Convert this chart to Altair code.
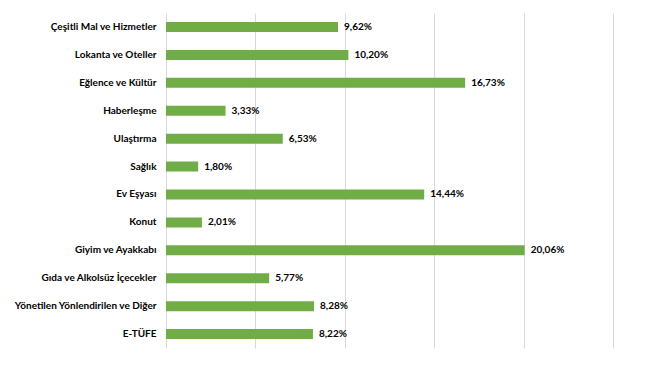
import altair as alt
import pandas as pd

categories = [
    "Çeşitli Mal ve Hizmetler",
    "Lokanta ve Oteller",
    "Eğlence ve Kültür",
    "Haberleşme",
    "Ulaştırma",
    "Sağlık",
    "Ev Eşyası",
    "Konut",
    "Giyim ve Ayakkabı",
    "Gıda ve Alkolsüz İçecekler",
    "Yönetilen Yönlendirilen ve Diğer",
    "E-TÜFE",
]
values = [9.62, 10.20, 16.73, 3.33, 6.53, 1.80, 14.44, 2.01, 20.06, 5.77, 8.28, 8.22]
x_ticks = [0, 5, 10, 15, 20, 25]

df = pd.DataFrame({"kategori": categories, "deger": values})

FONT = "Lato"

y_enc = alt.Y(
    "kategori:N",
    sort=categories,
    title=None,
    scale=alt.Scale(paddingInner=0.64, paddingOuter=0.32),
    axis=alt.Axis(
        domain=False,
        ticks=False,
        grid=False,
        labelFont=FONT,
        labelFontWeight="bold",
        labelFontSize=10,
        labelColor="#000000",
        labelPadding=10,
        labelLimit=300,
    ),
)
x_enc = alt.X(
    "deger:Q",
    title=None,
    scale=alt.Scale(domain=[0, 25], nice=False),
    axis=alt.Axis(
        values=x_ticks,
        labels=False,
        ticks=False,
        domain=False,
        grid=True,
        gridColor="#d9d9d9",
        gridWidth=1,
    ),
)

base = alt.Chart(df).encode(y=y_enc, x=x_enc)

bars = base.mark_bar(color="#70AD47", size=10)
labels = base.transform_calculate(
    etiket="replace(format(datum.deger, '.2f'), '.', ',') + '%'"
).mark_text(
    align="left",
    baseline="middle",
    dx=6,
    font=FONT,
    fontWeight="bold",
    fontSize=10,
    color="#000000",
).encode(text="etiket:N")

chart = (
    (bars + labels)
    .properties(
        width=447,
        height=335,
        background="#ffffff",
        autosize=alt.AutoSizeParams(type="none"),
        padding={"left": 158, "top": 5, "right": 10, "bottom": 5},
    )
    .configure_view(strokeWidth=0, stroke="transparent")
)

chart.save("out.html", embed_options={"renderer": "svg", "actions": False})
